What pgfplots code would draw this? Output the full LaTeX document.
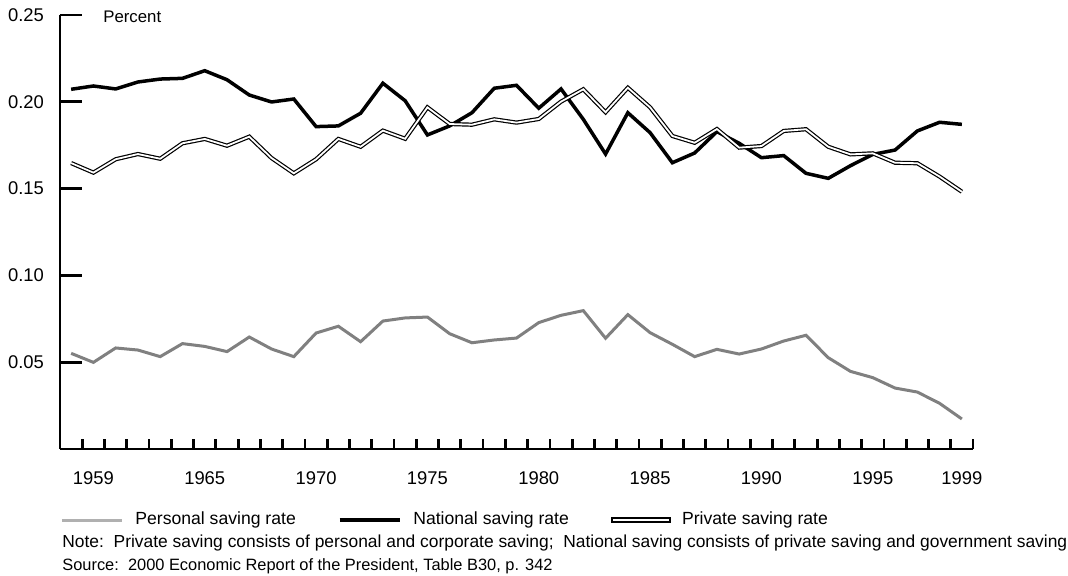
\documentclass[border=0pt]{standalone}
\usepackage{fontspec}
\setmainfont{Liberation Sans}
\usepackage{pgfplots}
\pgfplotsset{compat=1.18}
\usepackage{pgfplotstable}

\pgfplotstableread{
year personal national private
1959 0.0551 0.2072 0.1647
1960 0.0499 0.2091 0.1592
1961 0.0582 0.2074 0.1669
1962 0.0570 0.2114 0.1699
1963 0.0532 0.2131 0.1672
1964 0.0607 0.2135 0.1761
1965 0.0591 0.2179 0.1786
1966 0.0561 0.2127 0.1747
1967 0.0645 0.2039 0.1799
1968 0.0576 0.1999 0.1676
1969 0.0532 0.2016 0.1588
1970 0.0668 0.1857 0.1669
1971 0.0707 0.1861 0.1786
1972 0.0618 0.1934 0.1741
1973 0.0737 0.2107 0.1834
1974 0.0755 0.2006 0.1787
1975 0.0760 0.1809 0.1968
1976 0.0664 0.1861 0.1872
1977 0.0612 0.1937 0.1868
1978 0.0628 0.2078 0.1899
1979 0.0639 0.2095 0.1880
1980 0.0728 0.1963 0.1901
1981 0.0770 0.2074 0.2001
1982 0.0797 0.1899 0.2072
1983 0.0638 0.1699 0.1940
1984 0.0774 0.1937 0.2081
1985 0.0670 0.1822 0.1968
1986 0.0603 0.1649 0.1803
1987 0.0532 0.1705 0.1764
1988 0.0574 0.1828 0.1843
1989 0.0547 0.1761 0.1736
1990 0.0576 0.1678 0.1745
1991 0.0622 0.1690 0.1832
1992 0.0655 0.1588 0.1842
1993 0.0526 0.1559 0.1741
1994 0.0447 0.1632 0.1697
1995 0.0411 0.1697 0.1703
1996 0.0351 0.1722 0.1649
1997 0.0328 0.1832 0.1646
1998 0.0263 0.1882 0.1569
1999 0.0173 0.1870 0.1482
}\savingdata

\definecolor{persgray}{RGB}{128,128,128}
\definecolor{leggray}{RGB}{176,176,176}

\begin{document}
\begin{tikzpicture}
\useasboundingbox (0pt,0pt) rectangle (534pt,288pt);
\begin{axis}[
  at={(30pt,63.5pt)}, anchor=south west,
  scale only axis, width=456.5pt, height=217pt,
  xmin=1958.5, xmax=1999.5, ymin=0, ymax=0.25,
  axis x line=bottom, axis y line=left,
  axis line style={-, line width=1.4pt, black},
  tick align=inside,
  xtick={1960,1965,1970,1975,1980,1985,1990,1995,1999},
  xticklabels={1959,1965,1970,1975,1980,1985,1990,1995,1999},
  minor xtick={1959.5,1960.5,...,1999.5},
  major x tick style={draw=none},
  minor x tick style={line width=1.4pt, black},
  minor tick length=5pt,
  ytick={0.05,0.1,0.15,0.2,0.25},
  yticklabels={0.05,0.10,0.15,0.20,0.25},
  major y tick style={line width=1.4pt, black},
  major tick length=11pt,
  ticklabel style={font=\fontsize{9.2}{10}\selectfont},
  xticklabel style={yshift=-8pt},
  yticklabel style={xshift=-4.5pt},
  clip=false,
  legend columns=3,
  legend style={draw=none, fill=none, inner sep=0pt,
    at={(rel axis cs:0.0,-0.1636)}, anchor=west,
    font=\fontsize{8.8}{10}\selectfont,
    /tikz/every even column/.append style={column sep=19pt}},
  legend image code/.code={\draw[#1] (0pt,0pt) -- (30pt,0pt); \path (34pt,0pt);},
]
\addplot[persgray, line width=1.5pt, forget plot] table[x=year, y=personal] {\savingdata};
\addplot[black, line width=1.75pt, forget plot] table[x=year, y=national] {\savingdata};
\addplot[black, line width=0.6pt, double=white, double distance=0.9pt, forget plot] table[x=year, y=private] {\savingdata};
\addlegendimage{leggray, line width=1.5pt}
\addlegendentry{Personal saving rate}
\addlegendimage{black, line width=1.75pt}
\addlegendentry{National saving rate}
\addlegendimage{legend image code/.code={\draw[black, line width=0.8pt, fill=white] (1pt,-1.1pt) rectangle (30pt,1.1pt); \path (34pt,0pt);}}
\addlegendentry{Private saving rate}
\node[anchor=west, inner sep=0pt, font=\fontsize{8.4}{10}\selectfont] at (rel axis cs:0.047,0.995) {Percent};
\end{axis}
\node[anchor=west, inner sep=0pt, font=\fontsize{8.7}{10}\selectfont] at (31pt,16.5pt) {Note:\ \ Private saving consists of personal and corporate saving;\ \ National saving consists of private saving and government saving};
\node[anchor=west, inner sep=0pt, font=\fontsize{8.2}{10}\selectfont] at (31pt,5pt) {Source:\ \ 2000 Economic Report of the President, Table B30, p. 342};
\end{tikzpicture}
\end{document}
